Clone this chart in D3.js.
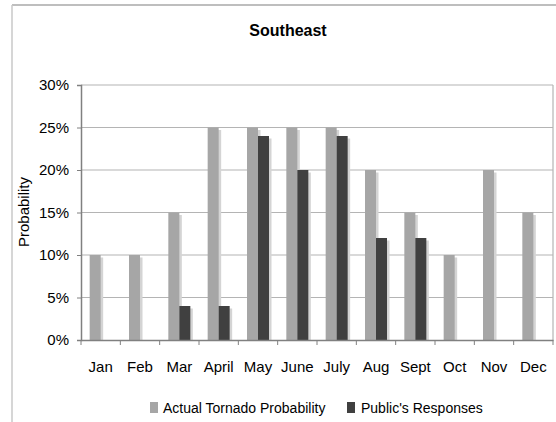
<!DOCTYPE html>
<html><head><meta charset="utf-8">
<script src="https://cdn.jsdelivr.net/npm/d3@7"></script>
<style>
body{margin:0;background:#fff;}
text{font-family:"Liberation Sans",Arial,sans-serif;fill:#000;}
</style></head>
<body>
<svg id="c" width="556" height="422"></svg>
<script>
const months = ["Jan","Feb","Mar","April","May","June","July","Aug","Sept","Oct","Nov","Dec"];
const actualProb = [10,10,15,25,25,25,25,20,15,10,20,15];
const publicResp = [0,0,4,4,24,20,24,12,12,0,0,0];
const yTicks = [0,5,10,15,20,25,30];
const seriesNames = ["Actual Tornado Probability","Public's Responses"];
const seriesColors = ["#a6a6a6","#404040"];

const svg = d3.select("#c");
const m = {l:81, r:553, t:85, b:340};

// outer frame
svg.append("line").attr("x1",12).attr("x2",556).attr("y1",5).attr("y2",5).attr("stroke","#a8a8a8").attr("stroke-width",1.5);
svg.append("line").attr("x1",12).attr("x2",12).attr("y1",5).attr("y2",422).attr("stroke","#c8c8c8").attr("stroke-width",1.5);

svg.append("text").attr("x",288).attr("y",36).attr("text-anchor","middle")
  .attr("font-size",16).attr("font-weight","bold").text("Southeast");

const x = d3.scaleBand().domain(months).range([m.l,m.r]);
const y = d3.scaleLinear().domain([0,30]).range([m.b,m.t]);

// gridlines
svg.append("g").selectAll("line").data(yTicks.filter(d=>d>0)).join("line")
  .attr("x1",m.l).attr("x2",m.r).attr("y1",d=>y(d)).attr("y2",d=>y(d))
  .attr("stroke","#b4b4b4").attr("stroke-width",1.2);
// right border
svg.append("line").attr("x1",m.r).attr("x2",m.r).attr("y1",m.t).attr("y2",m.b).attr("stroke","#b4b4b4").attr("stroke-width",1.2);

const barW = 11;
[actualProb, publicResp].forEach((vals, si) => {
  const off = x.bandwidth()/2 - barW + si*barW;
  svg.append("g").selectAll("rect").data(months.map((mn,i)=>({mn,v:vals[i]})).filter(d=>d.v>0)).join("rect")
    .attr("x",d=>x(d.mn)+off+2.5).attr("y",d=>y(d.v)+2.5)
    .attr("width",barW).attr("height",d=>m.b-y(d.v)-2.5)
    .attr("fill","#d4d4d4");
});
[actualProb, publicResp].forEach((vals, si) => {
  const off = x.bandwidth()/2 - barW + si*barW;
  svg.append("g").selectAll("rect").data(months.map((mn,i)=>({mn,v:vals[i]})).filter(d=>d.v>0)).join("rect")
    .attr("x",d=>x(d.mn)+off).attr("y",d=>y(d.v))
    .attr("width",barW).attr("height",d=>m.b-y(d.v))
    .attr("fill",seriesColors[si]);
});

// y axis
const ya = svg.append("g").attr("transform",`translate(${m.l},0)`)
  .call(d3.axisLeft(y).tickValues(yTicks).tickFormat(d=>d+"%").tickSize(4).tickPadding(8));
ya.select(".domain").attr("stroke","#808080").attr("stroke-width",1.5);
ya.selectAll(".tick line").attr("stroke","#808080");
ya.selectAll("text").attr("font-size",15).attr("font-family","Liberation Sans, Arial, sans-serif");

// x axis
const xa = svg.append("g").attr("transform",`translate(0,${m.b})`)
  .call(d3.axisBottom(x).tickSize(0).tickPadding(21));
xa.select(".domain").attr("stroke","#808080").attr("stroke-width",1.5);
xa.selectAll("text").attr("font-size",15).attr("font-family","Liberation Sans, Arial, sans-serif");
svg.append("g").selectAll("line").data(months.map(mn=>x(mn)).concat([m.r])).join("line")
  .attr("x1",d=>d).attr("x2",d=>d).attr("y1",m.b).attr("y2",m.b+5).attr("stroke","#808080");

svg.append("text").attr("transform","translate(29,212) rotate(-90)").attr("text-anchor","middle")
  .attr("font-size",15).text("Probability");

// legend
const lg = [{x:150, tx:163},{x:347, tx:361}];
seriesNames.forEach((n,i)=>{
  svg.append("rect").attr("x",lg[i].x).attr("y",402).attr("width",8).attr("height",11).attr("fill",seriesColors[i]);
  svg.append("text").attr("x",lg[i].tx).attr("y",413).attr("font-size",14).text(n);
});
</script>
</body></html>
